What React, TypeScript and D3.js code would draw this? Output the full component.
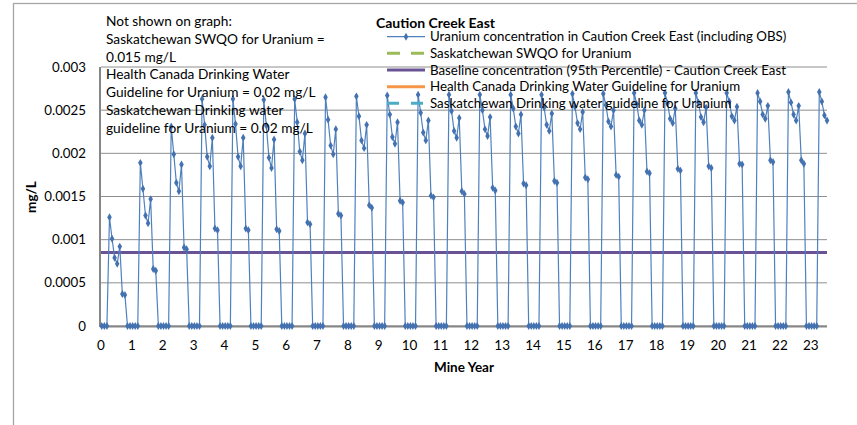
import React from "react";
import * as d3 from "d3";

// Mine years (x) and monthly uranium concentration (mg/L), Jan..Dec of each mine year
const mineYears = [0, 1, 2, 3, 4, 5, 6, 7, 8, 9, 10, 11, 12, 13, 14, 15, 16, 17, 18, 19, 20, 21, 22, 23];
const uraniumMonthly: number[][] = [
  [0, 0, 0, 0.00126, 0.00101, 0.00079, 0.00072, 0.00092, 0.00037, 0.00036, 0, 0],
  [0, 0, 0, 0.00189, 0.00159, 0.00128, 0.00119, 0.00147, 0.00066, 0.00064, 0, 0],
  [0, 0, 0, 0.00231, 0.00199, 0.00166, 0.00156, 0.00187, 0.00091, 0.00089, 0, 0],
  [0, 0, 0, 0.00263, 0.00233, 0.00196, 0.00185, 0.00218, 0.00113, 0.00111, 0, 0],
  [0, 0, 0, 0.00263, 0.00234, 0.00196, 0.00185, 0.00218, 0.00113, 0.00111, 0, 0],
  [0, 0, 0, 0.00262, 0.00232, 0.00195, 0.00183, 0.00216, 0.00112, 0.0011, 0, 0],
  [0, 0, 0, 0.00263, 0.00236, 0.00202, 0.00192, 0.00223, 0.0012, 0.00118, 0, 0],
  [0, 0, 0, 0.00265, 0.00239, 0.00209, 0.00199, 0.00228, 0.0013, 0.00128, 0, 0],
  [0, 0, 0, 0.00266, 0.00243, 0.00215, 0.00206, 0.00233, 0.0014, 0.00137, 0, 0],
  [0, 0, 0, 0.00267, 0.00245, 0.00219, 0.00211, 0.00236, 0.00145, 0.00143, 0, 0],
  [0, 0, 0, 0.00268, 0.00247, 0.00224, 0.00215, 0.00238, 0.00151, 0.00149, 0, 0],
  [0, 0, 0, 0.00268, 0.00249, 0.00226, 0.00218, 0.00241, 0.00156, 0.00153, 0, 0],
  [0, 0, 0, 0.00268, 0.0025, 0.00228, 0.0022, 0.00242, 0.0016, 0.00157, 0, 0],
  [0, 0, 0, 0.00268, 0.00252, 0.00231, 0.00223, 0.00245, 0.00165, 0.00163, 0, 0],
  [0, 0, 0, 0.00268, 0.00253, 0.00233, 0.00226, 0.00246, 0.00168, 0.00166, 0, 0],
  [0, 0, 0, 0.00269, 0.00254, 0.00235, 0.00228, 0.00248, 0.00172, 0.0017, 0, 0],
  [0, 0, 0, 0.00269, 0.00256, 0.00237, 0.00231, 0.0025, 0.00175, 0.00173, 0, 0],
  [0, 0, 0, 0.0027, 0.00257, 0.00238, 0.00233, 0.0025, 0.00179, 0.00177, 0, 0],
  [0, 0, 0, 0.0027, 0.00258, 0.0024, 0.00235, 0.00252, 0.00182, 0.0018, 0, 0],
  [0, 0, 0, 0.0027, 0.00259, 0.00242, 0.00236, 0.00253, 0.00185, 0.00183, 0, 0],
  [0, 0, 0, 0.0027, 0.0026, 0.00243, 0.00238, 0.00254, 0.00188, 0.00187, 0, 0],
  [0, 0, 0, 0.0027, 0.0026, 0.00245, 0.0024, 0.00255, 0.00192, 0.0019, 0, 0],
  [0, 0, 0, 0.00271, 0.00259, 0.00245, 0.00238, 0.00255, 0.00192, 0.00188, 0, 0],
  [0, 0, 0, 0.00271, 0.0026, 0.00244, 0.00238],
];
const baselineConcentration = 0.00085; // 95th percentile
const swqoUranium = 0.015; // off scale
const healthCanadaGuideline = 0.02; // off scale
const saskDrinkingGuideline = 0.02; // off scale

const yTickValues = [0, 0.0005, 0.001, 0.0015, 0.002, 0.0025, 0.003];
const yTickLabels = ["0", "0.0005", "0.001", "0.0015", "0.002", "0.0025", "0.003"];
const xTickValues = mineYears;

const chartTitle = "Caution Creek East";
const legendLabels = [
  "Uranium concentration in Caution  Creek East (including OBS)",
  "Saskatchewan SWQO for Uranium",
  "Baseline  concentration (95th Percentile) - Caution  Creek East",
  "Health Canada Drinking Water Guideline for Uranium",
  "Saskatchewan  Drinking water guideline  for Uranium",
];
const noteLines = [
  "Not shown on graph:",
  "Saskatchewan SWQO for Uranium  =",
  "0.015 mg/L",
  "Health Canada Drinking Water",
  "Guideline for Uranium = 0.02 mg/L",
  "Saskatchewan  Drinking water",
  "guideline for Uranium = 0.02 mg/L",
];

const FONT = "Lato, 'Liberation Sans', sans-serif";

export default function App() {
  const W = 857;
  const H = 425;
  const left = 101;
  const right = 827;
  const top = 67;
  const bottom = 326;

  const points: { t: number; v: number }[] = [];
  uraniumMonthly.forEach((row, yi) => {
    row.forEach((v, m) => {
      points.push({ t: mineYears[yi] + (m + 0.3) / 12, v });
    });
  });
  const xMax = points[points.length - 1].t;

  const x = d3.scaleLinear().domain([0, xMax]).range([left, right]);
  const y = d3.scaleLinear().domain([0, 0.003]).range([bottom, top]);

  const line = d3
    .line<{ t: number; v: number }>()
    .x((d) => x(d.t))
    .y((d) => y(d.v));

  const blue = "#4F81BD";
  const markerFill = "#4472B0";
  const diamond = d3.symbol().type(d3.symbolDiamond).size(18)();

  const legendX1 = 387;
  const legendX2 = 425;
  const legendTextX = 430;
  const legendRowY = [36.7, 53.3, 70, 86.7, 103.3];

  const grid = "#8E8E8E";

  return (
    <svg
      width={W}
      height={H}
      style={{ position: "absolute", left: 0, top: 0, background: "#fff" }}
      fontFamily={FONT}
    >
      <rect x={0} y={0} width={W} height={H} fill="#fff" />
      {/* outer chart border */}
      <rect x={13.5} y={3.5} width={1000} height={600} fill="none" stroke="#A6A6A6" strokeWidth={1.3} />

      {/* gridlines */}
      {yTickValues.map((v, i) => (
        <line key={"g" + i} x1={left} x2={right} y1={y(v)} y2={y(v)} stroke={grid} strokeWidth={1} />
      ))}
      {/* axes */}
      <line x1={left - 1} x2={left - 1} y1={top} y2={bottom + 1} stroke="#868686" strokeWidth={2} />
      <line x1={left - 1} x2={right} y1={bottom + 0.5} y2={bottom + 0.5} stroke="#868686" strokeWidth={2} />

      {/* y tick labels */}
      {yTickValues.map((v, i) => (
        <text key={"yl" + i} x={86} y={y(v)} dy="0.35em" textAnchor="end" fontSize={13.3} fill="#000">
          {yTickLabels[i]}
        </text>
      ))}
      {/* x tick labels */}
      {xTickValues.map((v) => (
        <text key={"xl" + v} x={x(v)} y={350} textAnchor="middle" fontSize={13.5} fill="#000">
          {v}
        </text>
      ))}

      {/* axis titles */}
      <text x={464} y={372} textAnchor="middle" fontSize={13.5} fontWeight="bold">
        Mine Year
      </text>
      <text
        transform={`translate(36,197) rotate(-90)`}
        textAnchor="middle"
        fontSize={13.5}
        fontWeight="bold"
      >
        mg/L
      </text>

      {/* baseline */}
      <line
        x1={left}
        x2={right}
        y1={y(baselineConcentration)}
        y2={y(baselineConcentration)}
        stroke="#6A5394"
        strokeWidth={3}
      />

      {/* uranium series */}
      <path d={line(points) || ""} fill="none" stroke={blue} strokeWidth={1.2} />
      {points.map((p, i) => (
        <path key={"m" + i} d={diamond || ""} transform={`translate(${x(p.t)},${y(p.v)})`} fill={markerFill} />
      ))}

      {/* note text */}
      {noteLines.map((s, i) => (
        <text key={"n" + i} x={106} y={21 + i * 17.9} dy="0.35em" fontSize={13.7} fill="#000">
          {s}
        </text>
      ))}

      {/* title */}
      <text x={435.5} y={23.5} dy="0.35em" textAnchor="middle" fontSize={14} fontWeight="bold">
        {chartTitle}
      </text>

      {/* legend */}
      <g>
        <line x1={legendX1} x2={legendX2} y1={legendRowY[0]} y2={legendRowY[0]} stroke={blue} strokeWidth={1.2} />
        <path d={diamond || ""} transform={`translate(${(legendX1 + legendX2) / 2},${legendRowY[0]})`} fill={markerFill} />
        <line x1={legendX1} x2={legendX2} y1={legendRowY[1]} y2={legendRowY[1]} stroke="#9BBB59" strokeWidth={3} strokeDasharray="13,11" />
        <line x1={legendX1} x2={legendX2} y1={legendRowY[2]} y2={legendRowY[2]} stroke="#6A5394" strokeWidth={3} />
        <line x1={legendX1} x2={legendX2} y1={legendRowY[3]} y2={legendRowY[3]} stroke="#F79646" strokeWidth={3} />
        <line x1={legendX1} x2={legendX2} y1={legendRowY[4]} y2={legendRowY[4]} stroke="#4BACC6" strokeWidth={3} strokeDasharray="12,12" />
        {legendLabels.map((s, i) => (
          <text key={"lg" + i} x={legendTextX} y={legendRowY[i]} dy="0.35em" fontSize={13.3} fill="#000">
            {s}
          </text>
        ))}
      </g>
      {/* off-scale guidelines kept for reference (not visible) */}
      <g style={{ display: "none" }}>
        <line x1={left} x2={right} y1={y(swqoUranium)} y2={y(swqoUranium)} />
        <line x1={left} x2={right} y1={y(healthCanadaGuideline)} y2={y(healthCanadaGuideline)} />
        <line x1={left} x2={right} y1={y(saskDrinkingGuideline)} y2={y(saskDrinkingGuideline)} />
      </g>
    </svg>
  );
}
